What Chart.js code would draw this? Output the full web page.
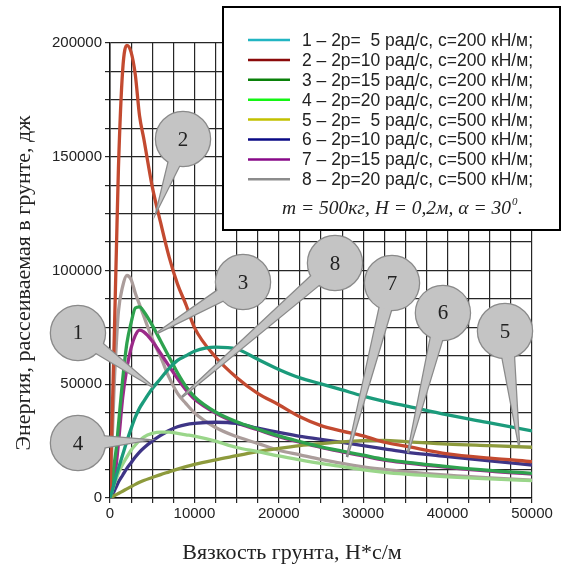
<!DOCTYPE html>
<html>
<head>
<meta charset="utf-8">
<script src="https://cdn.jsdelivr.net/npm/chart.js@4.4.1/dist/chart.umd.min.js"></script>
<style>
  html, body { margin: 0; padding: 0; background: #fff; }
  #wrap { width: 563px; height: 568px; }
</style>
</head>
<body>
<div id="wrap"><canvas id="grafica" width="563" height="568"></canvas></div>
<script>
// вязкость грунта, Н*с/м
const viscosity = [0, 250, 500, 750, 1000, 1500, 2000, 2500, 3000, 3500, 4000, 5000, 6000, 7000, 8000, 9000, 10000,
  12500, 15000, 17500, 20000, 22500, 25000, 27500, 30000, 32500, 35000, 40000, 45000, 50000];

// энергия, дж
const energy1 = [0, 3000, 6500, 10000, 13000, 19000, 25000, 30500, 35500, 39500, 42500, 48000, 52500, 57000, 60500, 62500, 64500,
  66300, 65500, 61000, 56500, 52800, 50200, 47500, 44800, 42500, 40500, 36500, 33000, 29500];
const energy2 = [0, 35000, 70000, 108000, 145000, 188000, 199000, 196000, 186000, 168000, 158000, 137000, 121000, 106000, 94000, 85000, 75000,
  62000, 53000, 46000, 41000, 35700, 31800, 29400, 27300, 24500, 22800, 19400, 17500, 16000];
const energy3 = [0, 7000, 15000, 22000, 32000, 52000, 68000, 77000, 83500, 84000, 82000, 76000, 69000, 62000, 55000, 49000, 44500,
  37800, 33500, 30300, 27300, 24800, 22500, 20600, 18800, 17000, 15800, 13800, 12100, 10800];
const energy4 = [0, 3000, 6000, 8500, 11000, 14800, 18000, 21000, 23300, 25200, 26800, 28400, 29000, 29000, 28400, 27800, 27200,
  25000, 22200, 20400, 18500, 16800, 15200, 13800, 12400, 11300, 10500, 9300, 8400, 7600];
const energy5 = [0, 500, 1000, 1500, 2000, 3000, 4000, 5000, 6000, 6900, 7700, 9000, 10300, 11500, 12700, 13800, 14800,
  16800, 18600, 20400, 21800, 23000, 23900, 24700, 25200, 25300, 24800, 23700, 23000, 22300];
const energy6 = [0, 1500, 3000, 5000, 7000, 10000, 13000, 15500, 18000, 20200, 22000, 25000, 27500, 29700, 31300, 32300, 32800,
  33300, 32800, 30700, 28800, 27100, 25800, 24400, 23000, 21600, 20200, 18200, 16300, 14500];
const energy7 = [0, 4000, 8000, 15000, 24000, 44000, 57000, 66000, 71500, 73800, 73000, 69000, 63500, 58000, 52500, 47500, 43500,
  37300, 33000, 30000, 27000, 24500, 22200, 20300, 18500, 16700, 15500, 13500, 11800, 10500];
const energy8 = [0, 25000, 50000, 68000, 82000, 93000, 97800, 96000, 90000, 85000, 80000, 70000, 62000, 53000, 46000, 41500, 37500,
  31000, 27000, 24000, 21000, 19000, 17000, 15200, 13700, 12600, 11600, 10000, 8800, 7900];

const legendLabels = [
  '1 – 2р=  5 рад/с, с=200 кН/м;',
  '2 – 2р=10 рад/с, с=200 кН/м;',
  '3 – 2р=15 рад/с, с=200 кН/м;',
  '4 – 2р=20 рад/с, с=200 кН/м;',
  '5 – 2р=  5 рад/с, с=500 кН/м;',
  '6 – 2р=10 рад/с, с=500 кН/м;',
  '7 – 2р=15 рад/с, с=500 кН/м;',
  '8 – 2р=20 рад/с, с=500 кН/м;'
];
const legendColors = ['#22b5c2', '#8b0a0a', '#0a800a', '#14f514', '#c2c000', '#0a0a85', '#880a88', '#8c8c8c'];
const lineColors = ['#1b9b7b', '#c34a30', '#2ea24e', '#9ad68a', '#8d9a3c', '#3e3586', '#9b2a89', '#ab9d9b'];
const allSeries = [energy1, energy2, energy3, energy4, energy5, energy6, energy7, energy8];

const xTitle = 'Вязкость грунта, Н*с/м';
const yTitle = 'Энергия, рассеиваемая в грунте, дж';

// выноски: острие в координатах графика, круг смещён в пикселях
const callouts = [
  { label: '1', x: 5090, y: 48800, dx: -75, dy: -54 },
  { label: '2', x: 5570, y: 126600, dx: 26, dy: -71 },
  { label: '3', x: 5570, y: 72500, dx: 86, dy: -51 },
  { label: '4', x: 4380, y: 25500, dx: -69, dy: 3 },
  { label: '8', x: 8530, y: 44400, dx: 153, dy: -134 },
  { label: '7', x: 28080, y: 18000, dx: 45, dy: -174 },
  { label: '6', x: 35300, y: 19800, dx: 35, dy: -140 },
  { label: '5', x: 48460, y: 23300, dx: -14, dy: -114 }
];

function drawCallout(ctx, tipX, tipY, c) {
  const cx = tipX + c.dx, cy = tipY + c.dy, r = 27;
  const len = Math.hypot(c.dx, c.dy);
  const ux = -c.dx / len, uy = -c.dy / len;   // от центра к острию
  const px = -uy, py = ux;
  const w = 6;
  const bx = cx + ux * (r - 4), by = cy + uy * (r - 4);
  const wedge = () => {
    ctx.beginPath();
    ctx.moveTo(bx + px * w, by + py * w);
    ctx.lineTo(tipX, tipY);
    ctx.lineTo(bx - px * w, by - py * w);
    ctx.closePath();
  };
  const circle = () => {
    ctx.beginPath();
    ctx.arc(cx, cy, r, 0, Math.PI * 2);
  };
  ctx.save();
  ctx.lineWidth = 2.5;
  ctx.strokeStyle = '#8a8a8a';
  ctx.fillStyle = '#c4c4c4';
  wedge(); ctx.stroke();
  circle(); ctx.stroke();
  wedge(); ctx.fill();
  circle(); ctx.fill();
  ctx.fillStyle = '#222';
  ctx.font = '21px "Liberation Serif", serif';
  ctx.textAlign = 'center';
  ctx.textBaseline = 'middle';
  ctx.fillText(c.label, cx, cy + 1);
  ctx.restore();
}

const decor = {
  id: 'decor',
  afterDraw(chart) {
    const ctx = chart.ctx;
    const xs = chart.scales.x, ys = chart.scales.y;

    // рамка легенды
    ctx.save();
    ctx.fillStyle = '#fff';
    ctx.fillRect(223, 7, 337, 223);
    ctx.strokeStyle = '#000';
    ctx.lineWidth = 2;
    ctx.strokeRect(223, 7, 337, 223);

    ctx.font = '18px "Liberation Sans", Arial, sans-serif';
    ctx.textBaseline = 'middle';
    const k = 231 / ctx.measureText(legendLabels[1]).width;
    for (let i = 0; i < legendLabels.length; i++) {
      const y = 40 + i * 19.9;
      ctx.strokeStyle = legendColors[i];
      ctx.lineWidth = 2.5;
      ctx.beginPath();
      ctx.moveTo(248, y);
      ctx.lineTo(290, y);
      ctx.stroke();
      ctx.save();
      ctx.translate(302, y + 1);
      ctx.scale(k, 1);
      ctx.fillStyle = '#222';
      ctx.fillText(legendLabels[i], 0, 0);
      ctx.restore();
    }
    // формула
    ctx.fillStyle = '#222';
    ctx.font = 'italic 19.5px "Liberation Serif", serif';
    ctx.textBaseline = 'alphabetic';
    const f = 'm = 500кг, H = 0,2м, α = 30';
    ctx.fillText(f, 282, 214);
    const fw = ctx.measureText(f).width;
    ctx.font = 'italic 11px "Liberation Serif", serif';
    ctx.fillText('0', 282 + fw + 1, 205);
    ctx.font = 'italic 19.5px "Liberation Serif", serif';
    ctx.fillText('.', 282 + fw + 7, 214);
    ctx.restore();

    // выноски
    callouts.forEach(c => {
      drawCallout(ctx, xs.getPixelForValue(c.x), ys.getPixelForValue(c.y), c);
    });

    // подписи осей
    ctx.save();
    ctx.fillStyle = '#222';
    ctx.font = '22px "Liberation Serif", serif';
    ctx.textAlign = 'center';
    ctx.textBaseline = 'middle';
    ctx.fillText(xTitle, 292, 553);
    ctx.translate(24, 283);
    ctx.rotate(-Math.PI / 2);
    ctx.fillText(yTitle, 0, 0);
    ctx.restore();
  }
};

const datasets = allSeries.map((s, i) => ({
  label: legendLabels[i],
  data: viscosity.map((x, j) => ({ x, y: s[j] })),
  borderColor: lineColors[i],
  borderWidth: 3.3,
  pointRadius: 0,
  cubicInterpolationMode: 'monotone',
  fill: false
}));

const tickFont = { family: '"Liberation Sans", Arial, sans-serif', size: 15 };

new Chart(document.getElementById('grafica').getContext('2d'), {
  type: 'line',
  data: { datasets },
  options: {
    responsive: false,
    animation: false,
    devicePixelRatio: 1,
    layout: { padding: { top: 43, right: 31, left: 0, bottom: 0 } },
    plugins: { legend: { display: false }, tooltip: { enabled: false } },
    scales: {
      x: {
        type: 'linear', min: 0, max: 50000,
        ticks: {
          stepSize: 2500, autoSkip: false, maxRotation: 0, padding: 2,
          color: '#222', font: tickFont,
          callback: v => (v % 10000 === 0 ? String(v) : '')
        },
        grid: { color: '#262626', lineWidth: 1.2, tickLength: 5 },
        border: { color: '#111', width: 1.5 },
        afterFit: s => { s.height = 70; }
      },
      y: {
        type: 'linear', min: 0, max: 200000,
        ticks: {
          stepSize: 12500, autoSkip: false, padding: 3,
          color: '#222', font: tickFont,
          callback: v => (v % 50000 === 0 ? String(v) : '')
        },
        grid: { color: '#262626', lineWidth: 1.2, tickLength: 5 },
        border: { color: '#111', width: 1.5 },
        afterFit: s => { s.width = 110; }
      }
    }
  },
  plugins: [decor]
});
</script>
</body>
</html>
